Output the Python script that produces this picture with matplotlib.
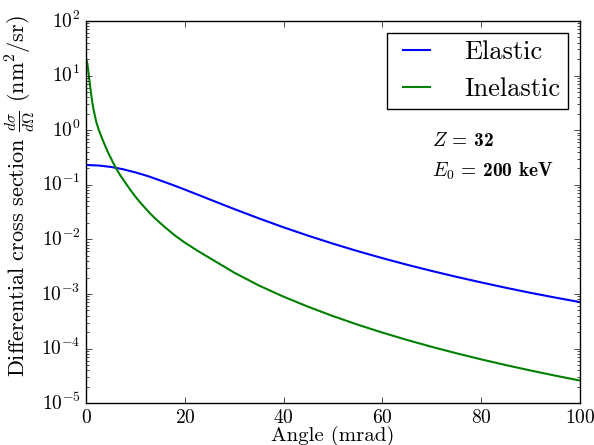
import numpy as np
import matplotlib
matplotlib.use("Agg")
import matplotlib.pyplot as plt

#%% Data:
elastic_angle = [0, 2.5, 5, 7.5, 10, 12.5, 15, 17.5, 20, 22.5, 25, 30, 35, 40,
                 45, 50, 55, 60, 65, 70, 75, 80, 85, 90, 95, 100]
elastic_dcs = [0.230, 0.225, 0.212, 0.192, 0.168, 0.144, 0.120, 0.0994,
               0.0815, 0.0664, 0.0540, 0.0359, 0.0242, 0.0166, 0.01165,
               0.00834, 0.00609, 0.00453, 0.00343, 0.00264, 0.00206,
               0.00163, 0.00130, 0.00105, 0.00086, 0.00071]

inelastic_angle = [0, 0.25, 0.5, 0.75, 1.0, 1.25, 1.5, 2.0, 2.5, 3.0, 3.5,
                   4.0, 4.5, 5.0, 6.0, 7.0, 8.0, 9.0, 10, 11, 12, 13, 14, 16,
                   18, 20, 22.5, 25, 30, 35, 40, 45, 50, 55, 60, 65, 70, 75,
                   80, 85, 90, 95, 100]
# log10 of the inelastic cross section
inelastic_log = [1.30, 1.22, 1.04, 0.85, 0.67, 0.51, 0.38, 0.17, 0.02, -0.10,
                 -0.21, -0.32, -0.42, -0.51, -0.69, -0.84, -0.97, -1.10,
                 -1.22, -1.33, -1.43, -1.53, -1.62, -1.78, -1.93, -2.06,
                 -2.205, -2.34, -2.61, -2.845, -3.05, -3.235, -3.405, -3.562,
                 -3.707, -3.842, -3.968, -4.086, -4.197, -4.302, -4.401,
                 -4.495, -4.585]
inelastic_dcs = [10**v for v in inelastic_log]

Z = 32
E0 = 200  # keV

#%% Style:
plt.style.use("classic")
plt.rcParams["font.family"] = "cmr10"
plt.rcParams["mathtext.fontset"] = "cm"
plt.rcParams["axes.formatter.use_mathtext"] = True
plt.rcParams["axes.unicode_minus"] = False
plt.rcParams["figure.facecolor"] = "white"
plt.rcParams["savefig.facecolor"] = "white"

fig = plt.figure(figsize=(5.94, 4.45), dpi=100)
ax = fig.add_subplot(111)
fig.subplots_adjust(left=0.145, right=0.976, top=0.953, bottom=0.094)

ax.semilogy(elastic_angle, elastic_dcs, "b-", lw=1.5, label="Elastic")
ax.semilogy(inelastic_angle, inelastic_dcs, "g-", lw=1.5, label="Inelastic")

ax.set_xlim([0, 100])
ax.set_ylim([1e-5, 1e2])
ax.tick_params(labelsize=14)
ax.set_xlabel("Angle (mrad)", fontsize=15)
ax.set_ylabel(r"Differential cross section $\frac{d\sigma}{d\Omega}$ (nm$^2$/sr)",
              fontsize=16)
ax.xaxis.set_label_coords(0.5, -0.06)
ax.yaxis.set_label_coords(-0.10, 0.543)

ax.text(70, 0.52, r"$Z$ = %d" % Z, fontsize=14, family="cmb10", va="baseline")
ax.text(70, 0.138, r"$E_0$ = %d keV" % E0, fontsize=14, family="cmb10",
        va="baseline")

ax.legend(loc="upper right", fontsize=19, handlelength=1.6, handletextpad=1.0,
          borderpad=0.3, borderaxespad=0.45)

plt.savefig("out.png", dpi=100)
